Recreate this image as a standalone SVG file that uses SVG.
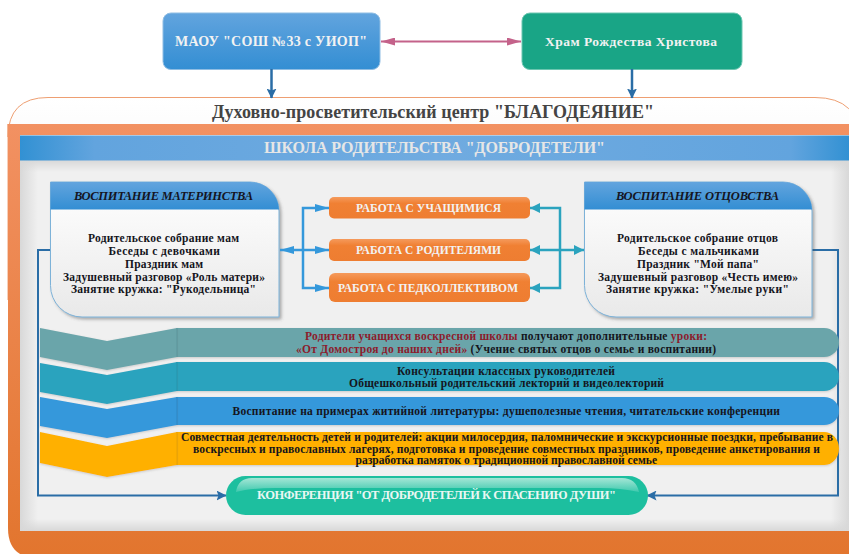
<svg xmlns="http://www.w3.org/2000/svg" width="849" height="554" viewBox="0 0 849 554">
<defs>
<linearGradient id="gBlue" x1="0" y1="0" x2="0" y2="1"><stop offset="0" stop-color="#62a4de"/><stop offset="1" stop-color="#338ed3"/></linearGradient>
<linearGradient id="gOuter" x1="0" y1="0" x2="0" y2="1"><stop offset="0" stop-color="#ffffff"/><stop offset="1" stop-color="#ececec"/></linearGradient>
<linearGradient id="gOrange" x1="0" y1="0" x2="0" y2="1"><stop offset="0" stop-color="#f29162"/><stop offset="1" stop-color="#e2752e"/></linearGradient>
<linearGradient id="gHeader" x1="0" y1="0" x2="1" y2="0"><stop offset="0" stop-color="#3291d3"/><stop offset=".09" stop-color="#62a4de"/><stop offset=".5" stop-color="#70abe0"/><stop offset=".93" stop-color="#62a4de"/><stop offset="1" stop-color="#3291d3"/></linearGradient>
<linearGradient id="gBody" x1="0" y1="0" x2="0" y2="1"><stop offset="0" stop-color="#ffffff"/><stop offset="1" stop-color="#e9e9e9"/></linearGradient>
<linearGradient id="gBtn" x1="0" y1="0" x2="0" y2="1"><stop offset="0" stop-color="#f59a5c"/><stop offset=".3" stop-color="#f08033"/><stop offset="1" stop-color="#ee7d31"/></linearGradient>
<linearGradient id="gPillHi" x1="0" y1="0" x2="0" y2="1"><stop offset="0" stop-color="#a5e6d6"/><stop offset="1" stop-color="#3fc9ae"/></linearGradient>
<linearGradient id="gShL" x1="0" y1="0" x2="1" y2="0"><stop offset="0" stop-color="#d8d8d8"/><stop offset="1" stop-color="#d8d8d8" stop-opacity="0"/></linearGradient>
<linearGradient id="gShR" x1="1" y1="0" x2="0" y2="0"><stop offset="0" stop-color="#d8d8d8"/><stop offset="1" stop-color="#d8d8d8" stop-opacity="0"/></linearGradient>
<linearGradient id="gShT" x1="0" y1="0" x2="0" y2="1"><stop offset="0" stop-color="#d8d8d8"/><stop offset="1" stop-color="#d8d8d8" stop-opacity="0"/></linearGradient>
<linearGradient id="gShB" x1="0" y1="1" x2="0" y2="0"><stop offset="0" stop-color="#d8d8d8"/><stop offset="1" stop-color="#d8d8d8" stop-opacity="0"/></linearGradient>
<filter id="sh" x="-5%" y="-5%" width="112%" height="112%"><feDropShadow dx="2" dy="2" stdDeviation="1.500" flood-color="#555" flood-opacity=".45"/></filter>
<filter id="shs" x="-3%" y="-10%" width="106%" height="125%"><feDropShadow dx="0" dy="1" stdDeviation="1" flood-color="#777" flood-opacity=".3"/></filter>
<marker id="mDark" viewBox="0 0 10 10" refX="9.500" refY="5" markerUnits="userSpaceOnUse" markerWidth="10" markerHeight="10" orient="auto"><path d="M0 0L10 5L0 10L2 5Z" fill="#2a6da6"/></marker>
<marker id="mPink" viewBox="0 0 14 8" refX="14" refY="4" markerUnits="userSpaceOnUse" markerWidth="14" markerHeight="8" orient="auto-start-reverse"><path d="M0 0L14 4L0 8Z" fill="#c4628a"/></marker>
<marker id="mBlue" viewBox="0 0 14 8" refX="14" refY="4" markerUnits="userSpaceOnUse" markerWidth="14" markerHeight="8" orient="auto-start-reverse"><path d="M0 0L14 4L0 8Z" fill="#3498db"/></marker>
<marker id="mTeal" viewBox="0 0 10 10" refX="10" refY="5" markerUnits="userSpaceOnUse" markerWidth="10" markerHeight="10" orient="auto-start-reverse"><path d="M0 0L10 5L0 10Z" fill="#2ba3be"/></marker>
</defs>
<style>
text{font-family:"Liberation Serif","Times New Roman",serif;font-weight:700}
.t{font-size:11.500px;fill:#15151c}
.w{font-size:11.500px;fill:#f2f2f2}
.h{font-size:12.500px;font-style:italic;fill:#15151f}
.r{fill:#8c1c2c}
.dk{fill:none;stroke:#2a6da6;stroke-width:2}
.bl{fill:none;stroke:#3498db;stroke-width:2.500}
.te{fill:none;stroke:#2ba3be;stroke-width:2.500}
.seam{stroke-width:1;opacity:.55}
</style>
<rect width="849" height="554" fill="#ffffff"/>

<g id="center-frame">
<path d="M8 124V137Q8 97.500 48 97.500H815Q860 97.500 860 142V300H8Z" fill="url(#gOuter)" stroke="#ee9f72" stroke-width="1"/>
<text x="212" y="118" font-size="18" fill="#444444" textLength="442" lengthAdjust="spacing">Духовно-просветительский центр "БЛАГОДЕЯНИЕ"</text>
</g>
<g id="orange-panel">
<path d="M8 124H860V558H38Q8 558 8 528Z" fill="url(#gOrange)"/>
<rect x="20" y="135" width="829" height="396" fill="#f0f0f0"/>
<rect x="20" y="160" width="18" height="371" fill="url(#gShL)"/>
<rect x="831" y="160" width="18" height="371" fill="url(#gShR)"/>
<rect x="20" y="160" width="829" height="12" fill="url(#gShT)"/>
<rect x="20" y="519" width="829" height="12" fill="url(#gShB)"/>
</g>
<g id="school-header">
<rect x="20" y="135.500" width="829" height="25" fill="url(#gHeader)"/>
<text x="264" y="153" font-size="16" fill="#e6e6e6" textLength="341" lengthAdjust="spacing">ШКОЛА РОДИТЕЛЬСТВА "ДОБРОДЕТЕЛИ"</text>
</g>

<g id="node-maou">
<rect x="163" y="13" width="217" height="56.500" rx="8" fill="url(#gBlue)" stroke="#8fbde3" stroke-width="1"/>
<text x="175" y="46" class="w" style="font-size:14px" textLength="192" lengthAdjust="spacing">МАОУ "СОШ №33 с УИОП"</text>
</g>
<g id="node-temple">
<rect x="522" y="13" width="220" height="56.500" rx="8" fill="#19a586" stroke="#6cc6b0" stroke-width="1"/>
<text x="545" y="46" class="w" style="font-size:13.500px" textLength="172" lengthAdjust="spacing">Храм Рождества Христова</text>
</g>

<g id="connectors-back">
<path class="dk" d="M50.500 250H38V495.500H226" marker-end="url(#mDark)"/>
<path class="dk" d="M812 250H838V495.500H647" marker-end="url(#mDark)"/>
</g>

<g id="node-motherhood">
<path d="M50.500 182H250A29 29 0 0 1 279 211V317H82A31.500 31.500 0 0 1 50.500 285.500Z" fill="url(#gBody)" stroke="#7db2d8" stroke-width="1" filter="url(#sh)"/>
<path d="M50.500 182H250A29 29 0 0 1 279 209.500H50.500Z" fill="url(#gBlue)"/>
<text x="74" y="200" class="h" textLength="179" lengthAdjust="spacing">ВОСПИТАНИЕ МАТЕРИНСТВА</text>
<text x="88" y="241.500" class="t" textLength="151" lengthAdjust="spacing">Родительское собрание мам</text>
<text x="108.500" y="254.500" class="t" textLength="111.500" lengthAdjust="spacing">Беседы с девочками</text>
<text x="125" y="267.500" class="t" textLength="78" lengthAdjust="spacing">Праздник мам</text>
<text x="63" y="280.500" class="t" textLength="202" lengthAdjust="spacing">Задушевный разговор «Роль матери»</text>
<text x="71" y="293" class="t" textLength="185" lengthAdjust="spacing">Занятие кружка: "Рукодельница"</text>
</g>
<g id="node-fatherhood">
<path d="M584.500 182H783A29 29 0 0 1 812 211V317H616A31.500 31.500 0 0 1 584.500 285.500Z" fill="url(#gBody)" stroke="#7db2d8" stroke-width="1" filter="url(#sh)"/>
<path d="M584.500 182H783A29 29 0 0 1 812 209.500H584.500Z" fill="url(#gBlue)"/>
<text x="616" y="200" class="h" textLength="163" lengthAdjust="spacing">ВОСПИТАНИЕ ОТЦОВСТВА</text>
<text x="617" y="241.500" class="t" textLength="161" lengthAdjust="spacing">Родительское собрание отцов</text>
<text x="638" y="254.500" class="t" textLength="121" lengthAdjust="spacing">Беседы с мальчиками</text>
<text x="637" y="267.500" class="t" textLength="122" lengthAdjust="spacing">Праздник "Мой папа"</text>
<text x="598" y="280.500" class="t" textLength="200" lengthAdjust="spacing">Задушевный разговор «Честь имею»</text>
<text x="606" y="293" class="t" textLength="183" lengthAdjust="spacing">Занятие кружка: "Умелые руки"</text>
</g>

<g id="node-work-students">
<rect x="329" y="197" width="201" height="21.500" rx="5" fill="url(#gBtn)"/>
<text x="356" y="212" class="w" textLength="145" lengthAdjust="spacing">РАБОТА С УЧАЩИМИСЯ</text>
</g>
<g id="node-work-parents">
<rect x="329" y="239" width="201" height="22" rx="5" fill="url(#gBtn)"/>
<text x="356" y="254" class="w" textLength="145" lengthAdjust="spacing">РАБОТА С РОДИТЕЛЯМИ</text>
</g>
<g id="node-work-staff">
<rect x="329" y="273" width="201" height="29" rx="6" fill="url(#gBtn)"/>
<text x="338" y="292" class="w" textLength="180" lengthAdjust="spacing">РАБОТА С ПЕДКОЛЛЕКТИВОМ</text>
</g>

<g id="connectors">
<path d="M381 41.500H521" fill="none" stroke="#c4628a" stroke-width="2" marker-start="url(#mPink)" marker-end="url(#mPink)"/>
<path class="dk" style="stroke-width:2.500" d="M271.500 69V98" marker-end="url(#mDark)"/>
<path class="dk" style="stroke-width:2.500" d="M632 69V98" marker-end="url(#mDark)"/>
<path class="bl" d="M280 250H329" marker-start="url(#mBlue)" marker-end="url(#mBlue)"/>
<path class="bl" d="M329 208H303V288H329" marker-start="url(#mBlue)" marker-end="url(#mBlue)"/>
<path class="te" d="M530 250H584" marker-start="url(#mTeal)" marker-end="url(#mTeal)"/>
<path class="te" d="M530 208H560V288H530" marker-start="url(#mTeal)" marker-end="url(#mTeal)"/>
</g>

<g id="node-row-sunday">
<path d="M824 328A15 14.500 0 0 1 839 342.500A15 14.500 0 0 1 824 357H176V328Z" fill="#6ba5aa" filter="url(#shs)"/>
<path d="M40 328L107 341L177 328V357L107 370L40 357Z" fill="#6ba5aa" filter="url(#shs)"/>
<path class="seam" d="M177 328V357" stroke="#4f8a90"/>
<text x="305" y="340" class="t" textLength="402" lengthAdjust="spacing"><tspan class="r">Родители учащихся воскресной школы</tspan> получают дополнительные <tspan class="r">уроки:</tspan></text>
<text x="296" y="352.500" class="t" textLength="420" lengthAdjust="spacing"><tspan class="r">«От Домостроя до наших дней»</tspan> (Учение святых отцов о семье и воспитании)</text>
</g>
<g id="node-row-consult">
<path d="M824 362A15 14.500 0 0 1 839 376.500A15 14.500 0 0 1 824 391H176V362Z" fill="#2ba3be" filter="url(#shs)"/>
<path d="M40 363L107 375L177 362V391L107 404L40 392Z" fill="#2ba3be" filter="url(#shs)"/>
<path class="seam" d="M177 362V391" stroke="#1f8aa2"/>
<text x="397" y="374.500" class="t" textLength="218" lengthAdjust="spacing">Консультации классных руководителей</text>
<text x="349" y="387" class="t" textLength="315" lengthAdjust="spacing">Общешкольный родительский лекторий и видеолекторий</text>
</g>
<g id="node-row-reading">
<path d="M824 397A15 14 0 0 1 839 411A15 14 0 0 1 824 425H176V397Z" fill="#3498db" filter="url(#shs)"/>
<path d="M40 397L107 409L177 397V425L107 438L40 426Z" fill="#3498db" filter="url(#shs)"/>
<path class="seam" d="M177 397V425" stroke="#2479b4"/>
<text x="232.500" y="414.500" class="t" textLength="547.500" lengthAdjust="spacing">Воспитание на примерах житийной литературы: душеполезные чтения, читательские конференции</text>
</g>
<g id="node-row-joint">
<path d="M824 432A15 16.500 0 0 1 839 448.500A15 16.500 0 0 1 824 465H176V432Z" fill="#ffb000" filter="url(#shs)"/>
<path d="M40 432L107 446L177 432V465L107 477L40 463Z" fill="#ffb000" filter="url(#shs)"/>
<path class="seam" d="M177 432V465" stroke="#d99600"/>
<text x="181" y="440.500" class="t" textLength="652" lengthAdjust="spacing">Совместная деятельность детей и родителей: акции милосердия, паломнические и экскурсионные поездки, пребывание в</text>
<text x="193" y="452.500" class="t" textLength="627" lengthAdjust="spacing">воскресных и православных лагерях, подготовка и проведение совместных праздников, проведение анкетирования и</text>
<text x="355.500" y="464" class="t" textLength="301.500" lengthAdjust="spacing">разработка памяток о традиционной православной семье</text>
</g>

<g id="node-conference">
<rect x="226" y="476" width="422" height="39" rx="19.500" fill="#1dbf9f"/>
<path d="M236 492Q238 478 252 478H622Q636 478 639 492Q620 488 600 488H275Q250 488 236 492Z" fill="url(#gPillHi)"/>
<text x="257" y="499" class="w" style="font-size:12.500px;fill:#eaf7f3" textLength="359" lengthAdjust="spacing">КОНФЕРЕНЦИЯ "ОТ ДОБРОДЕТЕЛЕЙ К СПАСЕНИЮ ДУШИ"</text>
</g>
</svg>
